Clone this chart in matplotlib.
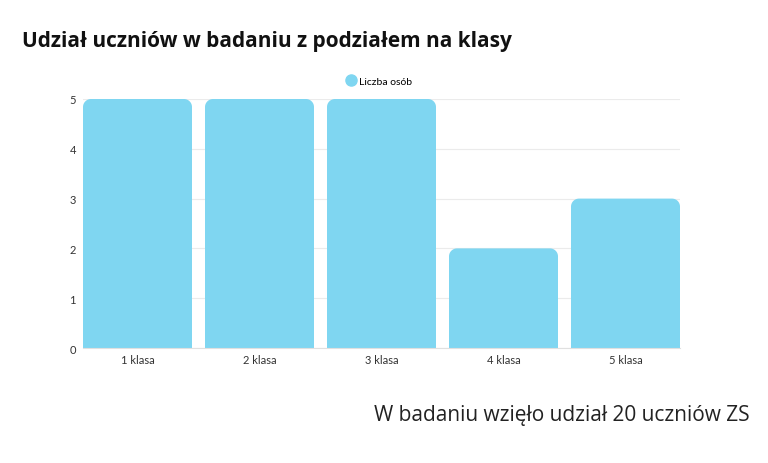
import numpy as np
import matplotlib.pyplot as plt
from matplotlib.patches import PathPatch
from matplotlib.path import Path
from matplotlib.lines import Line2D

categories = ["1 klasa", "2 klasa", "3 klasa", "4 klasa", "5 klasa"]
counts = [5, 5, 5, 2, 3]
y_ticks = [0, 1, 2, 3, 4, 5]
series_name = "Liczba osób"
title = "Udział uczniów w badaniu z podziałem na klasy"
footer = "W badaniu wzięło udział 20 uczniów ZS"

bar_color = "#7fd6f1"
bar_w = 109 / 122


def rounded_top(x0, w, h, rx, ry):
    # rectangle with only the two top corners rounded
    t = np.linspace(0, np.pi / 2, 12)
    left = np.column_stack([x0 + rx - rx * np.cos(t), h - ry + ry * np.sin(t)])
    right = np.column_stack([x0 + w - rx + rx * np.sin(t), h - ry + ry * np.cos(t)])
    pts = np.vstack([[x0, 0], left, right, [x0 + w, 0], [x0, 0]])
    return Path(pts, closed=True)


fig = plt.figure(figsize=(7.68, 4.64), dpi=100)
ax = fig.add_axes([83 / 768, 1 - 349 / 464, 597 / 768, 249 / 464])

bars = ax.bar(range(len(categories)), counts, width=bar_w, color="none")
ax.set_xlim(-bar_w / 2, len(categories) - 1 + bar_w / 2)
ax.set_ylim(0, 5)

x_per_px = (len(categories) - 1 + bar_w) / 597
y_per_px = 5 / 249
for b in bars:
    path = rounded_top(b.get_x(), b.get_width(), b.get_height(), 8 * x_per_px, 8 * y_per_px)
    ax.add_patch(PathPatch(path, fc=bar_color, ec="none", zorder=2))

ax.set_yticks(y_ticks)
ax.set_xticks(range(len(categories)), labels=categories)
ax.grid(axis="y", color="#ebebeb", lw=0.8, zorder=0)
ax.set_axisbelow(True)
for s in ["top", "right", "left"]:
    ax.spines[s].set_visible(False)
ax.spines["bottom"].set_color("#e0e0e0")
ax.tick_params(length=0, labelsize=8, labelcolor="#333333")
ax.tick_params(axis="x", pad=4)
ax.tick_params(axis="y", pad=5)
for lab in ax.get_xticklabels() + ax.get_yticklabels():
    lab.set_family("Lato")

handle = Line2D([], [], marker="o", ls="none", color=bar_color, markersize=8)
fig.legend([handle], [series_name], loc="center", bbox_to_anchor=(379 / 768, 1 - 82 / 464),
           frameon=False, prop={"family": "Lato", "size": 7.5}, handletextpad=0.3, handlelength=1.0)

fig.text(22 / 768, 1 - 42 / 464, title, fontsize=15, fontweight="bold", family="Open Sans",
         color="#111111", va="center", ha="left")
fig.text(750 / 768, 1 - 416 / 464, footer, fontsize=15, family="Open Sans",
         color="#222222", va="center", ha="right")

fig.savefig("out.png", dpi=100)
